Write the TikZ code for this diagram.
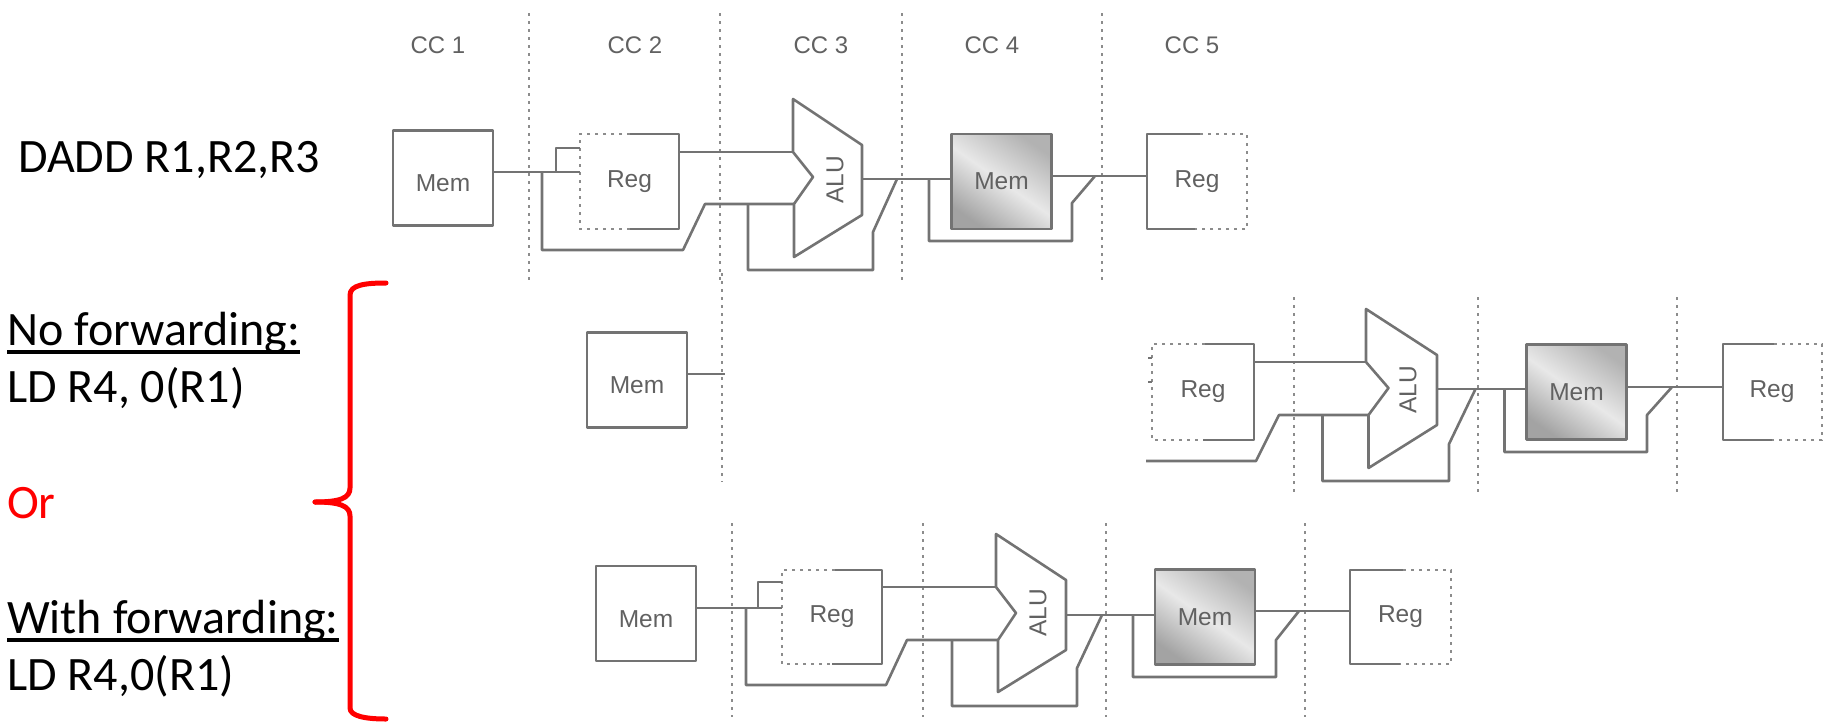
\documentclass[tikz,border=0pt]{standalone}
\usepackage{fontspec}
\setmainfont{Carlito}
\setsansfont{Liberation Sans}
\usetikzlibrary{positioning}

\begin{document}
\begin{tikzpicture}[wire/.style={draw=black!55, line width=2.6pt, line join=round},
  divider/.style={draw=black!45, line width=2.6pt, dash pattern=on 2.6pt off 5.4pt},
  stub/.style={draw=black!45, line width=2.6pt, dash pattern=on 3pt off 5pt},
  unit/.style={inner sep=0pt, minimum width=100pt, minimum height=95pt, font=\sffamily\fontsize{24.5}{24.5}\selectfont, text=black!62},
  membox/.style={unit, wire, text height=27pt, text depth=0pt},
  memact/.style={unit, wire, top color=black!30, bottom color=black!36, middle color=black!9, shading angle=-35},
  alutext/.style={unit, minimum width=0pt, minimum height=0pt, rotate=90},
  cclabel/.style={inner sep=0pt, font=\sffamily\fontsize{24}{24}\selectfont, text=black!62},
  instr/.style={anchor=base west, inner sep=0pt, font=\fontsize{48}{48}\selectfont},
  underbar/.style={draw=black, line width=3.5pt},
  brace/.style={draw=red, line width=5pt, line cap=round, line join=round}]
  \useasboundingbox (0pt, 0pt) rectangle (1829pt, -721pt);

  % text on the left
  \draw (18pt, -172pt)node[instr](dadd){DADD R1,R2,R3};
  \draw (7pt, -345pt)node[instr](nofwd){No forwarding:};
  \draw (7pt, -402pt)node[instr](ldone){LD R4, 0(R1)};
  \draw (7pt, -518pt)node[instr, text=red](orword){Or};
  \draw (7pt, -633pt)node[instr](withfwd){With forwarding:};
  \draw (7pt, -690pt)node[instr](ldtwo){LD R4,0(R1)};
  \draw[underbar] ([yshift=-7pt]nofwd.base west) -- ([yshift=-7pt]nofwd.base east);
  \draw[underbar] ([yshift=-7pt]withfwd.base west) -- ([yshift=-7pt]withfwd.base east);
  \draw (386pt, -283pt)coordinate(bracetop);
  \draw (386pt, -719pt)coordinate(bracebot);
  \draw (315pt, -502pt)coordinate(bracetip);
  \draw[brace] (bracetop) .. controls (365pt, -283pt) and (350pt, -285pt) .. (350pt, -295pt) -- (350pt, -488pt) .. controls (350pt, -498pt) and (340pt, -502pt) .. (bracetip);
  \draw[brace] (bracetip) .. controls (340pt, -502pt) and (350pt, -506pt) .. (350pt, -516pt) -- (350pt, -708pt) .. controls (350pt, -716pt) and (365pt, -719pt) .. (bracebot);

  % clock cycles
  \draw (438pt, -45pt)node[cclabel](cc1){CC 1};
  \draw (635pt, -45pt)node[cclabel](cc2){CC 2};
  \draw (821pt, -45pt)node[cclabel](cc3){CC 3};
  \draw (992pt, -45pt)node[cclabel](cc4){CC 4};
  \draw (1192pt, -45pt)node[cclabel](cc5){CC 5};
  \draw[divider] (529pt, -13pt) -- (529pt, -283pt);
  \draw[divider] (720pt, -13pt) -- (720pt, -283pt);
  \draw[divider] (902pt, -13pt) -- (902pt, -283pt);
  \draw[divider] (1102pt, -13pt) -- (1102pt, -283pt);
  \draw[divider] (722pt, -273pt) -- (722pt, -482pt);
  \draw[divider] (1294pt, -297pt) -- (1294pt, -492pt);
  \draw[divider] (1478pt, -297pt) -- (1478pt, -492pt);
  \draw[divider] (1677pt, -297pt) -- (1677pt, -492pt);
  \draw[divider] (732pt, -523pt) -- (732pt, -717pt);
  \draw[divider] (923pt, -523pt) -- (923pt, -717pt);
  \draw[divider] (1106pt, -523pt) -- (1106pt, -717pt);
  \draw[divider] (1305pt, -523pt) -- (1305pt, -717pt);

  % first instruction
  \draw (443pt, -178pt)node[membox](ma){Mem};
  \draw (629.5pt, -181.5pt)node[unit](ra){Reg};
  \draw (835pt, -180pt)node[alutext](aa){ALU};
  \draw (1001.5pt, -181.5pt)node[memact](da){Mem};
  \draw (1197pt, -181.5pt)node[unit](wa){Reg};
  \draw (793pt, -152pt)coordinate(aain);
  \draw (794pt, -204pt)coordinate(aaim);
  \draw (862pt, -179pt)coordinate(aaout);
  \draw (542pt, -172pt)coordinate(fa);
  \draw (556pt, -172pt)coordinate(ga);
  \draw (580pt, -172pt)coordinate(raw);
  \draw (580pt, -148pt)coordinate(rap);
  \draw (679pt, -152pt)coordinate(rao);
  \draw (748pt, -204pt)coordinate(ba);
  \draw (897pt, -179pt)coordinate(ea);
  \draw (929pt, -179pt)coordinate(ca);
  \draw (1052pt, -176pt)coordinate(dao);
  \draw (1095pt, -176pt)coordinate(ha);
  \draw (1147pt, -176pt)coordinate(waw);
  \draw[stub] (630pt, -134pt) -- (580pt, -134pt) -- (580pt, -229pt) -- (630pt, -229pt);
  \draw[wire] (630pt, -134pt) -- (679pt, -134pt) -- (679pt, -229pt) -- (630pt, -229pt);
  \draw[wire] (1200pt, -134pt) -- (1147pt, -134pt) -- (1147pt, -229pt) -- (1195pt, -229pt);
  \draw[stub] (1200pt, -134pt) -- (1247pt, -134pt) -- (1247pt, -229pt) -- (1195pt, -229pt);
  \draw[wire] (aain) -- (793pt, -99pt) -- (862pt, -145pt) -- (862pt, -215pt) -- (794pt, -257pt) -- (aaim) -- (813pt, -177pt) -- cycle;
  \draw[wire] (ma.east |- fa) -- (raw);
  \draw[wire] (ga) -- (556pt, -148pt) -- (rap);
  \draw[wire] (fa) -- (542pt, -250pt) -- (683pt, -250pt) -- (705pt, -204pt) -- (aaim);
  \draw[wire] (rao) -- (aain);
  \draw[wire] (ba) -- (748pt, -270pt) -- (873pt, -270pt) -- (873pt, -232pt) -- (ea);
  \draw[wire] (aaout) -- (da.west |- aaout);
  \draw[wire] (ca) -- (929pt, -241pt) -- (1072pt, -241pt) -- (1072pt, -203pt) -- (ha);
  \draw[wire] (dao) -- (waw);

  % second instruction, without forwarding
  \draw (637pt, -380pt)node[membox](mb){Mem};
  \draw (1203pt, -392pt)node[unit](rb){Reg};
  \draw (1408pt, -390pt)node[alutext](ab){ALU};
  \draw (1576.5pt, -392pt)node[memact](db){Mem};
  \draw (1772pt, -392pt)node[unit](wb){Reg};
  \draw (725pt, -374pt)coordinate(mbo);
  \draw (1148pt, -358pt)coordinate(rbp);
  \draw (1148pt, -382pt)coordinate(rbw);
  \draw (1152pt, -358pt)coordinate(rbq);
  \draw (1152pt, -382pt)coordinate(rbx);
  \draw (1146pt, -461pt)coordinate(fb);
  \draw (1254pt, -362pt)coordinate(rbo);
  \draw (1366pt, -362pt)coordinate(abin);
  \draw (1368.5pt, -415pt)coordinate(abim);
  \draw (1437pt, -389pt)coordinate(about);
  \draw (1322.5pt, -415pt)coordinate(bb);
  \draw (1475.5pt, -389pt)coordinate(eb);
  \draw (1504.5pt, -389pt)coordinate(cb);
  \draw (1627pt, -387pt)coordinate(dbo);
  \draw (1672pt, -387pt)coordinate(hb);
  \draw (1723pt, -387pt)coordinate(wbw);
  \draw[stub] (1205pt, -344pt) -- (1152pt, -344pt) -- (1152pt, -440pt) -- (1203pt, -440pt);
  \draw[wire] (1205pt, -344pt) -- (1254pt, -344pt) -- (1254pt, -440pt) -- (1203pt, -440pt);
  \draw[wire] (1774pt, -344pt) -- (1723pt, -344pt) -- (1723pt, -440pt) -- (1772pt, -440pt);
  \draw[stub] (1774pt, -344pt) -- (1822pt, -344pt) -- (1822pt, -440pt) -- (1772pt, -440pt);
  \draw[wire] (abin) -- (1366pt, -309pt) -- (1437pt, -355pt) -- (1437pt, -425pt) -- (1368.5pt, -468pt) -- (abim) -- (1388.5pt, -388pt) -- cycle;
  \draw[wire] (mb.east |- mbo) -- (mbo);
  \draw[wire] (rbp) -- (rbq);
  \draw[wire] (rbw) -- (rbx);
  \draw[wire] (fb) -- (1256pt, -461pt) -- (1279pt, -415pt) -- (abim);
  \draw[wire] (rbo) -- (abin);
  \draw[wire] (bb) -- (1322.5pt, -481pt) -- (1449pt, -481pt) -- (1449pt, -444pt) -- (eb);
  \draw[wire] (about) -- (db.west |- about);
  \draw[wire] (cb) -- (1504.5pt, -452pt) -- (1647pt, -452pt) -- (1647pt, -415pt) -- (hb);
  \draw[wire] (dbo) -- (wbw);

  % second instruction, with forwarding
  \draw (646pt, -613.5pt)node[membox](mc){Mem};
  \draw (832pt, -617pt)node[unit](rc){Reg};
  \draw (1038pt, -613pt)node[alutext](ac){ALU};
  \draw (1205pt, -617pt)node[memact](dc){Mem};
  \draw (1400.5pt, -617pt)node[unit](wc){Reg};
  \draw (996pt, -587pt)coordinate(acin);
  \draw (998pt, -640pt)coordinate(acim);
  \draw (1066pt, -615pt)coordinate(acout);
  \draw (746pt, -608pt)coordinate(fc);
  \draw (758pt, -608pt)coordinate(gc);
  \draw (782pt, -608pt)coordinate(rcw);
  \draw (782pt, -582pt)coordinate(rcp);
  \draw (882pt, -587pt)coordinate(rco);
  \draw (952pt, -640pt)coordinate(bc);
  \draw (1102pt, -615pt)coordinate(ec);
  \draw (1133pt, -615pt)coordinate(cc);
  \draw (1255pt, -611pt)coordinate(dco);
  \draw (1299pt, -611pt)coordinate(hc);
  \draw (1350pt, -611pt)coordinate(wcw);
  \draw[stub] (835pt, -570pt) -- (782pt, -570pt) -- (782pt, -664pt) -- (832pt, -664pt);
  \draw[wire] (835pt, -570pt) -- (882pt, -570pt) -- (882pt, -664pt) -- (832pt, -664pt);
  \draw[wire] (1403pt, -570pt) -- (1350pt, -570pt) -- (1350pt, -664pt) -- (1400pt, -664pt);
  \draw[stub] (1403pt, -570pt) -- (1451pt, -570pt) -- (1451pt, -664pt) -- (1400pt, -664pt);
  \draw[wire] (acin) -- (996pt, -534pt) -- (1066pt, -580pt) -- (1066pt, -650pt) -- (998pt, -692pt) -- (acim) -- (1016pt, -613pt) -- cycle;
  \draw[wire] (mc.east |- fc) -- (rcw);
  \draw[wire] (gc) -- (758pt, -582pt) -- (rcp);
  \draw[wire] (fc) -- (746pt, -685pt) -- (886pt, -685pt) -- (907pt, -640pt) -- (acim);
  \draw[wire] (rco) -- (acin);
  \draw[wire] (bc) -- (952pt, -706pt) -- (1077pt, -706pt) -- (1077pt, -668pt) -- (ec);
  \draw[wire] (acout) -- (dc.west |- acout);
  \draw[wire] (cc) -- (1133pt, -677pt) -- (1276pt, -677pt) -- (1276pt, -640pt) -- (hc);
  \draw[wire] (dco) -- (wcw);
\end{tikzpicture}
\end{document}
